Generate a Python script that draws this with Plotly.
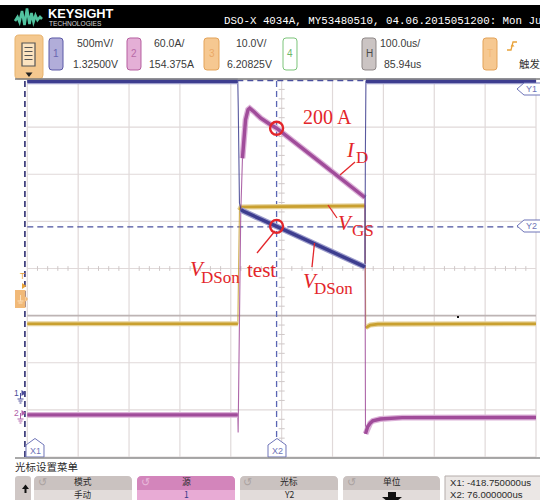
import plotly.graph_objects as go

# ---- scope settings (timebase / channel readouts) ----
T_CENTER = 85.94            # us at horizontal centre
T_DIV = 100.0               # us per division
VDS_DIV, VDS_CENTER = 0.5, 1.325        # channel 1: V/div, V at centre
VGS_DIV, VGS_CENTER = 10.0, 6.20825     # channel 3: V/div, V at centre
ID_DIV, ID_CENTER = 33.0, 101.8         # channel 2 current trace: A/div, A at centre

X1_US = -418.75
X2_US = 76.0
Y1_V = 3.325

# ---- captured waveforms ----
vds_t = [-414.06, -0.3, 0.6, 1.5, 3.0, 6.0, 10.0, 76.0, 249.7, 250.6, 251.6, 585.94]
vds_v = [3.31, 3.31, 3.05, 2.5, 2.02, 1.95, 1.935, 1.772, 1.342, 2.6, 3.31, 3.31]

id_t = [-414.06, -0.2, 0.4, 2.0, 3.5, 5.5, 8.9, 12.1, 15.0, 19.9, 23.2, 30.0, 45.0,
        62.0, 76.0, 150.0, 249.6, 250.8, 255.0, 260.0, 265.0, 280.0, 323.0, 585.94]
id_a = [-0.7, -0.7, -13.0, 40.0, 100.0, 140.0, 179.0, 197.5, 206.0, 213.0, 214.0, 212.0, 207.0,
        203.0, 200.0, 179.5, 151.5, -14.0, -9.0, -6.5, -4.9, -3.6, -2.6, -2.5]

vgs_t = [-414.06, -0.1, 0.5, 1.5, 3.0, 6.0, 249.8, 250.3, 251.2, 254.0, 260.0, 275.0, 585.94]
vgs_v = [-5.5, -5.5, 0.0, 15.0, 18.6, 19.25, 19.5, 10.0, -6.3, -6.2, -5.8, -5.6, -5.5]

# settled parts of each trace, drawn with the full phosphor width
VDS_SETTLED = [(-415, -0.3), (6.0, 249.7), (251.6, 586)]
ID_SETTLED = [(-415, -0.2), (8.9, 249.6), (250.8, 586)]
VGS_SETTLED = [(-415, -0.1), (3.0, 249.8), (251.2, 586)]

# ---- screen geometry (pixels) ----
W, H = 540, 500
PL, PR, PT, PB = 14, 540, 78, 459
GL, GR, GT, GB = 27.3, 536.0, 80.0, 457.0
NX, NY = 10, 8
gx = (GR - GL) / (NX * T_DIV)
gcx = (GL + GR) / 2
gy = (GB - GT) / NY
gcy = (GT + GB) / 2
x_range = [T_CENTER + (PL - gcx) / gx, T_CENTER + (PR - gcx) / gx]
y_range = [(gcy - PB) / gy, (gcy - PT) / gy]


def px(x):
    return (x - PL) / (PR - PL)


def py(y):
    return (PB - y) / (PB - PT)


def vds_div(v):
    return (v - VDS_CENTER) / VDS_DIV


def vgs_div(v):
    return (v - VGS_CENTER) / VGS_DIV


def id_div(a):
    return (a - ID_CENTER) / ID_DIV


def seg(ts, vs, lo, hi):
    pts = [(t, v) for t, v in zip(ts, vs) if lo <= t <= hi]
    return [p[0] for p in pts], [p[1] for p in pts]


BLUE = "#3d3d8f"
PURPLE = "#a04c9a"
YELLOW = "#c9a030"
RED = "#e3262b"
GRID = "#e0d9d9"
CURSOR = "#4a509e"
UI = "Liberation Sans"
CJK = "Noto Sans CJK SC"
SERIF = "Liberation Serif"

fig = go.Figure()


def add_channel(ts, vs, conv, color, halo, windows, thick):
    ys = [conv(v) for v in vs]
    fig.add_trace(go.Scatter(x=ts, y=ys, mode="lines", line=dict(color=color, width=1.1),
                             opacity=0.85, hoverinfo="skip"))
    for lo, hi in windows:
        sx, sy = seg(ts, vs, lo, hi)
        sy = [conv(v) for v in sy]
        if halo:
            fig.add_trace(go.Scatter(x=sx, y=sy, mode="lines", line=dict(color=halo, width=thick + 2.5),
                                     hoverinfo="skip"))
        fig.add_trace(go.Scatter(x=sx, y=sy, mode="lines", line=dict(color=color, width=thick),
                                 hoverinfo="skip"))


add_channel(vgs_t, vgs_v, vgs_div, YELLOW, "#e6d29a", VGS_SETTLED, 2.6)
add_channel(id_t, id_a, id_div, PURPLE, "#dcb2d8", ID_SETTLED, 3.4)
add_channel(vds_t, vds_v, vds_div, BLUE, "#9e9ecc", VDS_SETTLED, 3.4)

# measurement points at the X2 cursor
id_at_x2 = id_a[id_t.index(X2_US)]
vds_at_x2 = vds_v[vds_t.index(X2_US)]
fig.add_trace(go.Scatter(x=[X2_US, X2_US], y=[id_div(id_at_x2), vds_div(vds_at_x2)], mode="markers",
                         marker=dict(symbol="circle-open", size=13, color=RED, line=dict(width=2.4)),
                         hoverinfo="skip"))

shapes = []
t_lo, t_hi = T_CENTER - 5 * T_DIV, T_CENTER + 5 * T_DIV

# graticule
for k in range(-5, 6):
    x = T_CENTER + k * T_DIV
    shapes.append(dict(type="line", xref="x", yref="y", x0=x, x1=x, y0=-4, y1=4, layer="below",
                       line=dict(color=GRID, width=1.2)))
for k in range(-4, 5):
    shapes.append(dict(type="line", xref="x", yref="y", x0=t_lo, x1=t_hi, y0=k, y1=k, layer="below",
                       line=dict(color="#bdb4b4" if k == -1 else GRID, width=1.6 if k == -1 else 1.2)))
for j in range(-25, 26):
    if j % 5:
        x = T_CENTER + j * 0.2 * T_DIV
        shapes.append(dict(type="line", xref="x", yref="y", x0=x, x1=x, y0=-0.05, y1=0.05, layer="below",
                           line=dict(color="#cfc8c8", width=1)))
for j in range(-20, 21):
    if j % 5:
        y = j * 0.2
        shapes.append(dict(type="line", xref="x", yref="y", x0=T_CENTER - 0.06 * T_DIV,
                           x1=T_CENTER + 0.06 * T_DIV, y0=y, y1=y, layer="below",
                           line=dict(color="#cfc8c8", width=1)))

# cursors
shapes.append(dict(type="line", xref="x", yref="y", x0=X1_US, x1=X1_US, y0=-4, y1=4, layer="below",
                   line=dict(color="#2c2c70", width=1.6, dash="6px,4px")))
shapes.append(dict(type="line", xref="x", yref="y", x0=X2_US, x1=X2_US, y0=-4, y1=4, layer="below",
                   line=dict(color="#5a66b4", width=1.3, dash="6px,4px")))
for yv in (Y1_V, vds_at_x2):
    shapes.append(dict(type="line", xref="x", yref="y", x0=t_lo, x1=t_hi, y0=vds_div(yv) - 0.01,
                       y1=vds_div(yv) - 0.01, layer="below",
                       line=dict(color=CURSOR, width=1.4, dash="6px,4px")))


def prect(x0, y0, x1, y1, fill, line=None, lw=1):
    shapes.append(dict(type="rect", xref="paper", yref="paper", x0=px(x0), x1=px(x1), y0=py(y1), y1=py(y0),
                       fillcolor=fill, line=dict(color=line or fill, width=lw if line else 0), layer="above"))


def ppath(points, fill=None, line=None, lw=1, close=True, dash=None):
    d = "M " + " L ".join(f"{px(x):.5f},{py(y):.5f}" for x, y in points)
    if close:
        d += " Z"
    s = dict(type="path", xref="paper", yref="paper", path=d, layer="above",
             line=dict(color=line or "rgba(0,0,0,0)", width=lw if line else 0))
    if fill:
        s["fillcolor"] = fill
    if dash:
        s["line"]["dash"] = dash
    shapes.append(s)


def rrect(x0, y0, x1, y1, r, fill, line=None, lw=1, top_only=False):
    def P(x, y):
        return f"{px(x):.5f},{py(y):.5f}"
    rb = 0 if top_only else r
    d = (f"M {P(x0 + r, y0)} L {P(x1 - r, y0)} Q {P(x1, y0)} {P(x1, y0 + r)} "
         f"L {P(x1, y1 - rb)} Q {P(x1, y1)} {P(x1 - rb, y1)} L {P(x0 + rb, y1)} "
         f"Q {P(x0, y1)} {P(x0, y1 - rb)} L {P(x0, y0 + r)} Q {P(x0, y0)} {P(x0 + r, y0)} Z")
    shapes.append(dict(type="path", xref="paper", yref="paper", path=d, fillcolor=fill, layer="above",
                       line=dict(color=line or fill, width=lw if line else 0)))


def pline(x0, y0, x1, y1, color, lw=1):
    shapes.append(dict(type="line", xref="paper", yref="paper", x0=px(x0), x1=px(x1), y0=py(y0), y1=py(y1),
                       line=dict(color=color, width=lw), layer="above"))


annotations = []


def text(x, y, s, size, color="#333333", family=UI, xanchor="center", yanchor="middle", align="center"):
    annotations.append(dict(x=px(x), y=py(y), xref="paper", yref="paper", text=s, showarrow=False,
                            xanchor=xanchor, yanchor=yanchor, borderpad=0, align=align,
                            font=dict(size=size, color=color, family=family)))


# ---- title bar ----
prect(-2, 5, 542, 28, "#000000")
ppath([(15, 21), (17.5, 17), (19.5, 22), (22, 11), (24.5, 25), (27, 8.5), (29.5, 24), (31.5, 13),
       (33.5, 22), (35.5, 15.5), (37.5, 20), (40, 17), (42, 19)], line="#52c4a0", lw=2.6, close=False)
text(47, 13.5, "<b>KEYSIGHT</b>", 12.8, "#ffffff", xanchor="left")
text(47.5, 23.2, "TECHNOLOGIES", 6.6, "#d8d8d8", xanchor="left")
text(223, 21, "DSO-X 4034A, MY53480510, 04.06.2015051200: Mon Ju", 10.8, "#ffffff",
     family="Liberation Mono", xanchor="left")

# ---- channel / timebase readouts ----
rrect(15, 35, 43, 79, 4, "#f4c88f", line="#e8b36e")
prect(22, 43, 35, 66, "#fbe3c0", line="#555555", lw=1.2)
for yy in (47.5, 51.5, 55.5, 59.5):
    pline(24.5, yy, 32.5, yy, "#555555", 1)
ppath([(25.5, 72.5), (32.5, 72.5), (29, 77)], fill="#222222")

rrect(49, 38, 63, 70, 3, "#b1add9", line="#5b58a6")
text(56, 54, "1", 10, "#6a66b0")
text(95, 43.5, "500mV/", 10.5, "#3a3a3a")
text(95, 64, "1.32500V", 10.5, "#3a3a3a")

rrect(127, 38, 141, 70, 3, "#e4afd6", line="#b65fa0")
text(134, 54, "2", 10, "#b86aa6")
text(169, 43.5, "60.0A/", 10.5, "#3a3a3a")
text(171, 64, "154.375A", 10.5, "#3a3a3a")

rrect(204, 38, 219, 70, 3, "#f6c891", line="#e3a35a")
text(211.5, 54, "3", 10, "#eba966")
text(251, 43.5, "10.0V/", 10.5, "#3a3a3a")
text(249, 64, "6.20825V", 10.5, "#3a3a3a")

rrect(283, 38, 297, 70, 3, "#ffffff", line="#7cc47a")
text(290, 54, "4", 10, "#6cb86a")

rrect(362, 38, 376, 70, 3, "#cbc4c3", line="#8f8888")
text(369, 54, "H", 10, "#4a4a4a")
text(400, 43.5, "100.0us/", 10.5, "#3a3a3a")
text(402, 64, "85.94us", 10.5, "#3a3a3a")

rrect(483, 38, 497, 70, 3, "#f6c891", line="#e3a35a")
text(490, 54, "T", 10, "#f3b874")
ppath([(507, 50), (511, 50), (513, 42), (517, 42)], line="#e8a23a", lw=1.3, close=False)
ppath([(510.5, 46.5), (514.5, 46.5), (512.5, 44)], fill="#e8a23a")
text(518, 64, "触发", 10.5, "#333333", family=CJK, xanchor="left")

pline(15, 79, 542, 79, "#7c7c7c", 1.4)

# ---- left edge channel markers ----
text(22, 276, "T", 8.5, "#e8a23a")
ppath([(22, 283), (22, 289), (26.5, 286)], fill="#e8a23a")
prect(15, 290, 25.5, 308, "#f1b978")
pline(20.5, 295, 20.5, 301, "#fbe0bd", 1)
pline(17.5, 301, 23.5, 301, "#fbe0bd", 1)
pline(18.5, 303, 22.5, 303, "#fbe0bd", 1)
ppath([(25.5, 296), (25.5, 302), (28, 299)], fill="#f1b978")

for yc, col, lab in ((393, "#4a4a98", "1"), (413, "#b060a8", "2")):
    text(16.5, yc, lab, 8.5, col)
    pline(20.5, yc, 20.5, yc + 6, col, 1)
    pline(17.5, yc + 6, 23.5, yc + 6, col, 1)
    pline(18.5, yc + 8, 22.5, yc + 8, col, 1)
    pline(19.5, yc + 10, 21.5, yc + 10, col, 1)
    ppath([(21.5, yc - 3), (21.5, yc + 3), (26, yc)], fill=col)

# ---- cursor tags ----
LBL = "#6e74b8"
ppath([(26, 457), (26, 445), (35, 438.5), (44, 445), (44, 457)], fill="#ffffff", line=LBL, lw=1)
text(35, 451, "X1", 9, LBL)
ppath([(268, 457), (268, 445), (277, 438.5), (286, 445), (286, 457)], fill="#ffffff", line=LBL, lw=1)
text(277, 451, "X2", 9, LBL)
for yc, lab in ((89, "Y1"), (226, "Y2")):
    ppath([(542, yc - 6), (524, yc - 6), (517, yc), (524, yc + 6), (542, yc + 6)], fill="#ffffff", line=LBL, lw=1)
    text(525, yc, lab, 9, LBL, xanchor="left")

# stray pixel on the screen
prect(457, 316, 459, 318, "#111111")

# ---- red callouts ----
pline(340, 175, 355, 162, RED, 1.3)
pline(328, 205, 337, 218, RED, 1.3)
pline(275, 231, 257, 253, RED, 1.3)
pline(314.5, 243, 312, 267, RED, 1.3)
text(327, 117, "200 A", 20, RED, family=SERIF)
text(345, 150, "<i>I</i>", 21, RED, family=SERIF, xanchor="left")
text(355, 157, "D", 17, RED, family=SERIF, xanchor="left")
text(337, 223, "<i>V</i>", 21, RED, family=SERIF, xanchor="left")
text(351, 230, "GS", 17, RED, family=SERIF, xanchor="left")
text(189, 269, "<i>V</i>", 21, RED, family=SERIF, xanchor="left")
text(200, 277, "DSon", 17, RED, family=SERIF, xanchor="left")
text(246, 270, "test", 21, RED, family=SERIF, xanchor="left")
text(302, 281, "<i>V</i>", 21, RED, family=SERIF, xanchor="left")
text(313, 288, "DSon", 17, RED, family=SERIF, xanchor="left")

# ---- softkey menu ----
pline(15, 458, 542, 458, "#8c8c8c", 1.4)
text(14, 466, "光标设置菜单", 10.5, "#2a2a2a", family=CJK, xanchor="left")

rrect(15, 476, 31, 506, 3, "#cfc7c5", top_only=True)
ppath([(22, 489), (29, 489), (25.5, 484.5)], fill="#111111")
prect(24.5, 489, 26.5, 493, "#111111")

KEYS = [(34, 132, "模式", "手动", False), (137, 235, "源", "1", True),
        (240, 338, "光标", "Y2", False), (343, 440, "单位", "", False)]
for x0, x1, top, bottom, active in KEYS:
    upper, lower, icon = (("#d385bb", "#e8abd5", "#e8b9da") if active
                          else ("#cac2c0", "#e2dcda", "#aaa2a0"))
    rrect(x0, 476, x1, 506, 5, lower, top_only=True)
    rrect(x0, 476, x1, 490, 5, upper, top_only=True)
    text(x0 + 8, 482.5, "↺", 11, icon, family="DejaVu Sans")
    cx = (x0 + x1) / 2
    text(cx, 481.3, top, 8.8, "#2a2a2a", family=CJK)
    if bottom:
        text(cx, 494.2, bottom, 8.6, "#3a3a8a" if active else "#2a2a2a", family=CJK)
prect(388, 492, 396, 497, "#111111")
ppath([(382, 497), (402, 497), (392, 505)], fill="#111111")

prect(445, 476, 545, 506, "#ebe7e5", line="#b5adab")
text(449.5, 482.3, "X1: -418.750000us", 9.6, "#2a2a2a", xanchor="left")
text(449.5, 494.2, "X2: 76.000000us", 9.6, "#2a2a2a", xanchor="left")

fig.update_layout(
    width=W, height=H, autosize=False,
    margin=dict(l=PL, r=W - PR, t=PT, b=H - PB, pad=0),
    paper_bgcolor="#ffffff", plot_bgcolor="#ffffff",
    showlegend=False,
    xaxis=dict(range=x_range, visible=False, fixedrange=True),
    yaxis=dict(range=y_range, visible=False, fixedrange=True),
    shapes=shapes, annotations=annotations,
)

fig.write_html("out.html", config={"displayModeBar": False})
